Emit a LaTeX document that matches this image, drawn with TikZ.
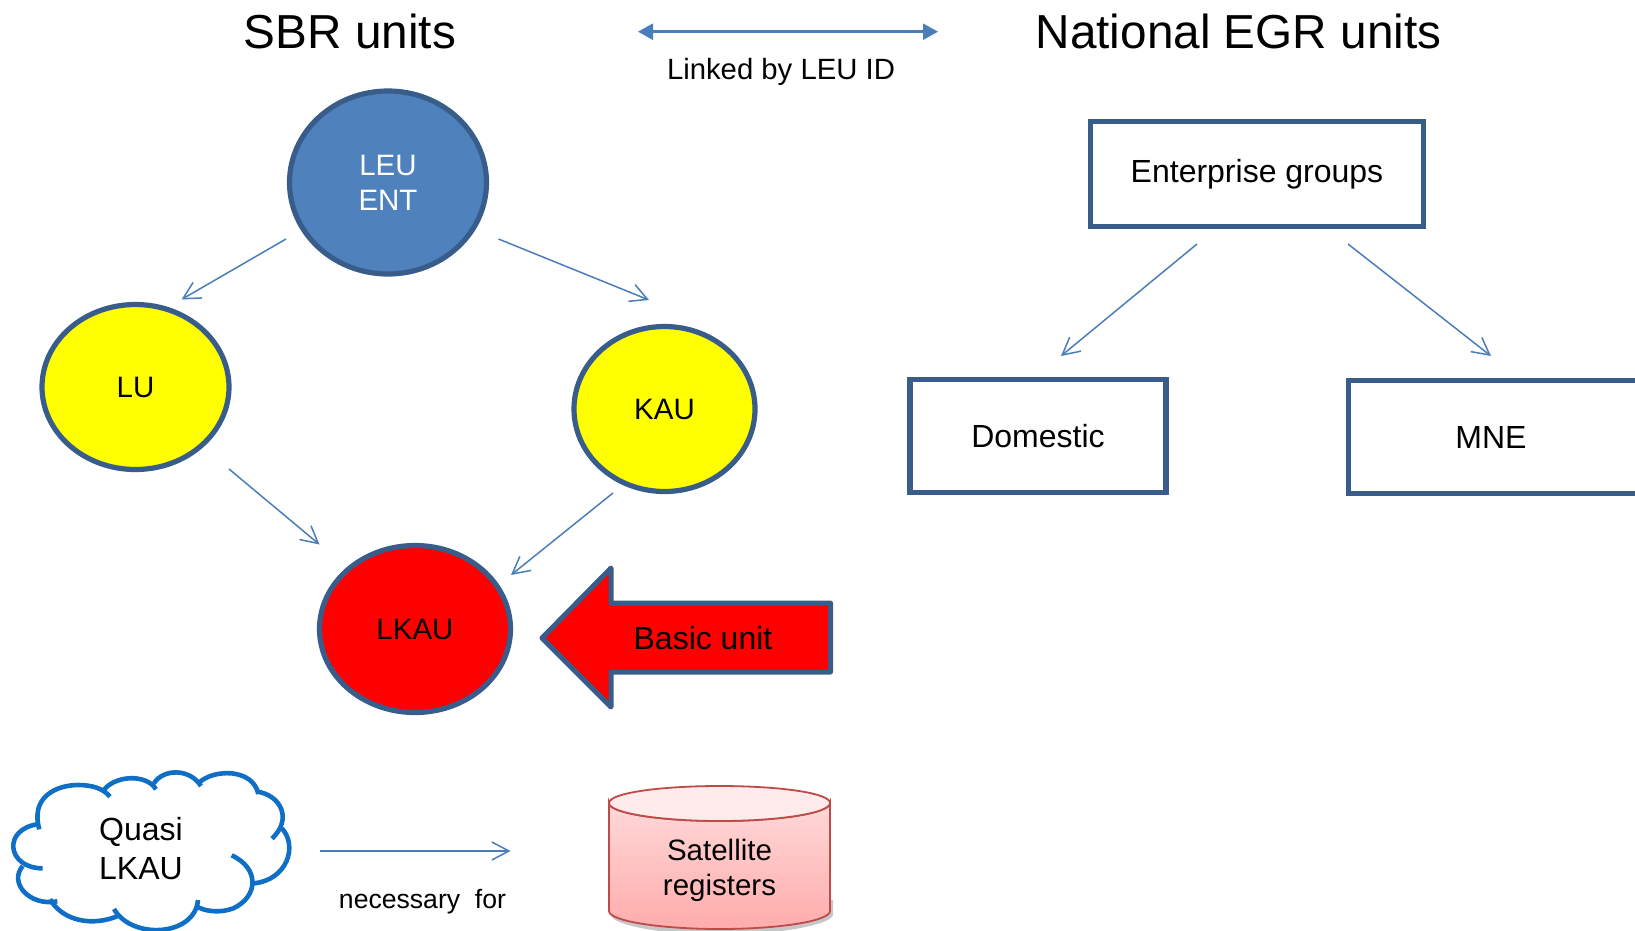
\documentclass[tikz,border=0pt]{standalone}
\usepackage{fontspec}
\setmainfont{Liberation Sans}
\usetikzlibrary{shapes.geometric,arrows.meta}
\definecolor{edgeblue}{HTML}{385D8A}
\definecolor{linkblue}{HTML}{4A7EBB}
\definecolor{leublue}{HTML}{4F81BD}
\definecolor{cloudblue}{HTML}{0F6FC6}
\definecolor{cylline}{HTML}{BE4B48}
\definecolor{unityellow}{HTML}{FFFF00}
\definecolor{unitred}{HTML}{FF0000}
\definecolor{cyltop}{HTML}{FFD8D8}
\definecolor{cylbot}{HTML}{FFACAC}
\definecolor{cylcap}{HTML}{FFEBEB}
\tikzset{
  x=1pt,y=-1pt,
  unitshape/.style={ellipse,draw=edgeblue,line width=5.2pt,inner sep=0pt,outer sep=0pt,align=center,font=\fontsize{29.5}{35}\selectfont},
  boxshape/.style={rectangle,draw=edgeblue,line width=5.2pt,inner sep=0pt,outer sep=0pt,font=\fontsize{32}{38}\selectfont},
  link/.style={draw=linkblue,line width=1.5pt,-{Straight Barb[length=17pt,width=18pt,line width=1.5pt]}},
  duallink/.style={draw=linkblue,line width=2.5pt,{Triangle[length=15pt,width=16pt]}-{Triangle[length=15pt,width=16pt]}},
  title/.style={font=\fontsize{47.7}{50}\selectfont},
  caption/.style={font=\fontsize{29.3}{34}\selectfont},
  cloudline/.style={draw=cloudblue,line width=4.6pt,line cap=butt},
}
\begin{document}
\begin{tikzpicture}
\useasboundingbox (0,0) rectangle (1635,930);
\fill[white] (0,0) rectangle (1635,930);

% titles
\node[title] (sbr) at (350,31.5) {SBR units};
\node[title] (egr) at (1238.5,31.5) {National EGR units};
\coordinate (dl) at (638,31.7);
\coordinate (dr) at (938,31.7);
\draw[duallink] (dl) -- (dr);
\node[caption] (linked) at (781,72) {Linked by LEU ID};

% SBR units
\node[unitshape,fill=leublue,text=white,minimum width=197pt,minimum height=183pt] (leu) at (388,182.5) {LEU\\ENT};
\node[unitshape,fill=unityellow,minimum width=187pt,minimum height=165pt] (lu) at (135.5,387) {LU};
\node[unitshape,fill=unityellow,minimum width=181pt,minimum height=165pt] (kau) at (664.5,409) {KAU};
\node[unitshape,fill=unitred,minimum width=191pt,minimum height=167pt] (lkau) at (415,629) {LKAU};

\coordinate (a1s) at (286,239);   \coordinate (a1e) at (181.5,299.5);
\coordinate (a2s) at (498.5,239);   \coordinate (a2e) at (649,300);
\coordinate (a3s) at (229,469);   \coordinate (a3e) at (319.5,544.5);
\coordinate (a4s) at (613,493);   \coordinate (a4e) at (511,575);
\draw[link] (a1s) -- (a1e);
\draw[link] (a2s) -- (a2e);
\draw[link] (a3s) -- (a3e);
\draw[link] (a4s) -- (a4e);

% Basic unit arrow
\draw[draw=edgeblue,fill=unitred,line width=5pt,line join=round]
  (542,638) -- (611,568) -- (611,603) -- (830.5,603) -- (830.5,672) -- (611,672) -- (611,707) -- cycle;
\node[font=\fontsize{32}{38}\selectfont] (basic) at (703,638) {Basic unit};

% EGR units
\node[boxshape,minimum width=333pt,minimum height=105pt] (eg) at (1257,174) {\raisebox{-3pt}{Enterprise groups}};
\node[boxshape,minimum width=256pt,minimum height=113pt] (dom) at (1038,436) {\raisebox{-1pt}{Domestic}};
\node[boxshape,minimum width=291pt,minimum height=113pt] (mne) at (1494,437) {\hspace*{-6pt}MNE};
\coordinate (b1s) at (1197,244);  \coordinate (b1e) at (1061,356);
\coordinate (b2s) at (1348,244);  \coordinate (b2e) at (1491,356);
\draw[link] (b1s) -- (b1e);
\draw[link] (b2s) -- (b2e);

% Quasi LKAU cloud (coordinates are those of a threefold crop)
\begin{scope}[x=0.3333pt,y=-0.3333pt,yshift=-740pt]
\fill[white] (110,265) .. controls (95,170) and (170,135) .. (235,135)
  .. controls (270,135) and (300,145) .. (325,165)
  -- (470,145) -- (600,135) -- (775,165)
  -- (850,265) .. controls (880,310) and (875,410) .. (765,430)
  .. controls (770,480) and (690,540) .. (592,500)
  .. controls (560,590) and (400,590) .. (350,530)
  .. controls (280,560) and (190,545) .. (150,480)
  .. controls (90,490) and (30,430) .. (65,380)
  .. controls (10,350) and (30,265) .. (110,265) -- cycle;
\draw[cloudline] (118,268) .. controls (90,170) and (170,135) .. (235,135)
  .. controls (275,135) and (310,145) .. (330,170);
\draw[cloudline] (308,155) .. controls (340,105) and (440,100) .. (468,148);
\draw[cloudline] (462,130) .. controls (490,85) and (570,85) .. (603,138);
\draw[cloudline] (595,130) .. controls (640,85) and (760,85) .. (775,162);
\draw[cloudline] (772,155) .. controls (840,165) and (880,235) .. (816,296);
\draw[cloudline] (846,265) .. controls (895,320) and (860,420) .. (762,430);
\draw[cloudline] (695,346) .. controls (780,385) and (775,470) .. (700,505)
  .. controls (660,520) and (615,515) .. (588,498);
\draw[cloudline] (594,480) .. controls (585,590) and (395,600) .. (342,507);
\draw[cloudline] (356,527) .. controls (280,560) and (190,545) .. (150,478);
\draw[cloudline] (172,484) .. controls (90,500) and (25,430) .. (68,378);
\draw[cloudline] (128,385) .. controls (20,385) and (5,265) .. (118,252);
\end{scope}
\node[align=center,font=\fontsize{32}{38.5}\selectfont] (quasi) at (141,848.5) {Quasi\\LKAU};

\coordinate (qe) at (510.5,851);
\coordinate (qs) at (319.5,851);
\draw[link] (qs) -- (qe);
\node[font=\fontsize{26.6}{30}\selectfont] (nec) at (422.5,902) {necessary\ \ for};

% Satellite registers cylinder
\fill[black,opacity=.22] (611,900) -- (611,915) .. controls (612,926) and (670,935) .. (720,935) .. controls (770,935) and (830,926) .. (833,915) -- (833,900) -- cycle;
\draw[draw=cylline,line width=1.8pt,top color=cyltop,bottom color=cylbot]
  (609,803) -- (609,911) .. controls (609,921) and (660,929) .. (719.5,929)
  .. controls (780,929) and (830,921) .. (830,911) -- (830,803)
  .. controls (830,813) and (780,821) .. (719.5,821)
  .. controls (660,821) and (609,813) .. (609,803) -- cycle;
\draw[draw=cylline,line width=1.8pt,fill=cylcap]
  (609,803) .. controls (609,793) and (660,786) .. (719.5,786)
  .. controls (780,786) and (830,793) .. (830,803)
  .. controls (830,813) and (780,821) .. (719.5,821)
  .. controls (660,821) and (609,813) .. (609,803) -- cycle;
\node[align=center,font=\fontsize{29.5}{35}\selectfont] (sat) at (719.5,870) {Satellite\\registers};
\end{tikzpicture}
\end{document}
